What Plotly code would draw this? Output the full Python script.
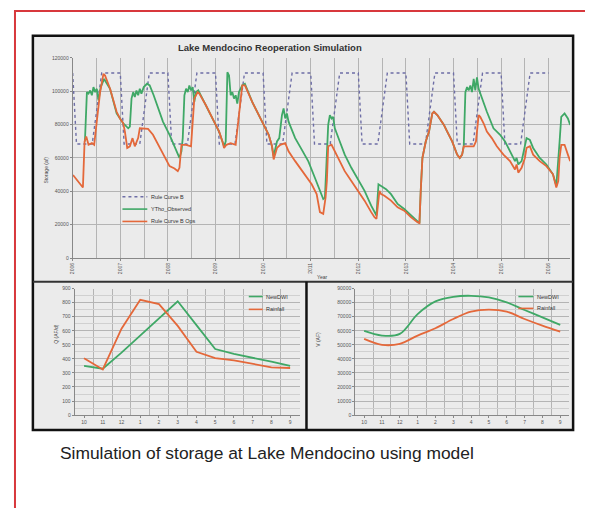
import plotly.graph_objects as go

# reference canvas size; the page body adds an 8px margin, so the figure is
# made 8px smaller and every layout position is measured from the window corner
W, H = 593, 508
OFF = 8
FW, FH = W - OFF, H - OFF

# ---------------- data: top chart (decimal year, storage af) ----------------
rule_t = [2006.75, 2006.83, 2007.16, 2007.36, 2007.75, 2007.83, 2008.16, 2008.36,
          2008.75, 2008.83, 2009.16, 2009.36, 2009.75, 2009.83, 2010.16, 2010.36,
          2010.75, 2010.83, 2011.16, 2011.36, 2011.75, 2011.83, 2012.16, 2012.36,
          2012.75, 2012.83, 2013.16, 2013.36, 2013.75, 2013.83, 2014.16, 2014.36,
          2014.75, 2014.83, 2015.16, 2015.36, 2015.75, 2015.83, 2016.16, 2016.36,
          2016.75]
rule_v = [111000, 68400, 68400, 111000, 111000, 68400, 68400, 111000,
          111000, 68400, 68400, 111000, 111000, 68400, 68400, 111000,
          111000, 68400, 68400, 111000, 111000, 68400, 68400, 111000,
          111000, 68400, 68400, 111000, 111000, 68400, 68400, 111000,
          111000, 68400, 68400, 111000, 111000, 68400, 68400, 111000,
          111000]

obs_t = [2007.007, 2007.049, 2007.083, 2007.118, 2007.153, 2007.187, 2007.222, 2007.257,
         2007.292, 2007.340, 2007.410, 2007.535, 2007.673, 2007.743, 2007.812, 2007.917,
         2007.951, 2007.986, 2008.021, 2008.055, 2008.090, 2008.125, 2008.160, 2008.194,
         2008.243, 2008.312, 2008.368, 2008.451, 2008.542, 2008.646, 2008.785, 2008.889,
         2008.958, 2008.993, 2009.035, 2009.062, 2009.097, 2009.132, 2009.167, 2009.201,
         2009.236, 2009.271, 2009.305, 2009.340, 2009.389, 2009.549, 2009.687, 2009.826,
         2009.896, 2009.930, 2009.965, 2010.000, 2010.035, 2010.069, 2010.104, 2010.139,
         2010.174, 2010.208, 2010.243, 2010.312, 2010.368, 2010.521, 2010.729, 2010.868,
         2010.937, 2010.972, 2011.042, 2011.090, 2011.146, 2011.181, 2011.215, 2011.250,
         2011.285, 2011.424, 2011.562, 2011.701, 2011.840, 2011.944, 2012.014, 2012.049,
         2012.083, 2012.118, 2012.153, 2012.188, 2012.222, 2012.257, 2012.361, 2012.465,
         2012.604, 2012.743, 2012.882, 2013.021, 2013.090, 2013.132, 2013.174, 2013.229,
         2013.333, 2013.437, 2013.576, 2013.715, 2013.854, 2013.993, 2014.035, 2014.062,
         2014.097, 2014.167, 2014.236, 2014.305, 2014.340, 2014.410, 2014.479, 2014.549,
         2014.618, 2014.722, 2014.826, 2014.882, 2014.931, 2014.965, 2015.000, 2015.035,
         2015.069, 2015.104, 2015.139, 2015.174, 2015.208, 2015.243, 2015.278, 2015.347,
         2015.451, 2015.590, 2015.729, 2015.833, 2015.937, 2016.042, 2016.076, 2016.111,
         2016.181, 2016.250, 2016.285, 2016.354, 2016.423, 2016.562, 2016.701, 2016.840,
         2016.910, 2016.979, 2017.014, 2017.083, 2017.153, 2017.201]
obs_v = [69900, 99500, 98600, 100500, 97600, 102500, 99500, 101500,
         94600, 102500, 107400, 101500, 86700, 83700, 80800, 77800,
         78800, 95600, 99500, 96600, 100500, 97600, 101500, 98600,
         102500, 104500, 103500, 97600, 89700, 81800, 73900, 67000,
         62000, 60000, 64000, 71900, 97600, 101500, 99500, 103500,
         100500, 102500, 93600, 99500, 100500, 91600, 83700, 75800,
         69900, 67000, 69900, 111400, 109400, 97600, 99500, 95600,
         97600, 92600, 99500, 103500, 104500, 93600, 81800, 73900,
         67000, 61000, 69900, 71900, 85700, 89700, 83700, 86700,
         81800, 71900, 65000, 58000, 48000, 40300, 35400, 36300,
         56100, 79800, 85700, 83700, 84700, 77800, 69900, 62000,
         54100, 47200, 40300, 31400, 27500, 25500, 44200, 43300,
         41300, 38300, 32400, 29400, 25500, 21500, 20900, 40300,
         60000, 69900, 75800, 86700, 87700, 85700, 82800, 79800,
         75800, 69900, 62000, 60000, 62000, 67000, 99500, 102500,
         100500, 103500, 99500, 107400, 100500, 108400, 101500, 95600,
         87700, 77800, 73900, 69900, 64000, 58100, 60000, 56100,
         58100, 67900, 71900, 70900, 66000, 60000, 56100, 50200,
         43300, 69900, 84700, 86700, 83700, 79800]

ops_t = [2006.757, 2006.965, 2007.000, 2007.035, 2007.083, 2007.153, 2007.201, 2007.257,
         2007.326, 2007.396, 2007.430, 2007.535, 2007.673, 2007.743, 2007.812, 2007.847,
         2007.896, 2007.951, 2008.007, 2008.055, 2008.125, 2008.160, 2008.229, 2008.333,
         2008.437, 2008.576, 2008.715, 2008.785, 2008.889, 2008.958, 2008.993, 2009.035,
         2009.132, 2009.236, 2009.305, 2009.375, 2009.410, 2009.549, 2009.687, 2009.826,
         2009.896, 2009.930, 2009.979, 2010.069, 2010.174, 2010.243, 2010.312, 2010.368,
         2010.521, 2010.729, 2010.868, 2010.937, 2010.972, 2011.042, 2011.111, 2011.215,
         2011.285, 2011.424, 2011.632, 2011.771, 2011.875, 2011.944, 2012.014, 2012.063,
         2012.090, 2012.118, 2012.188, 2012.222, 2012.326, 2012.465, 2012.604, 2012.743,
         2012.882, 2013.021, 2013.090, 2013.132, 2013.194, 2013.229, 2013.299, 2013.437,
         2013.576, 2013.715, 2013.854, 2013.993, 2014.035, 2014.062, 2014.097, 2014.167,
         2014.236, 2014.305, 2014.340, 2014.410, 2014.479, 2014.549, 2014.618, 2014.722,
         2014.826, 2014.882, 2014.931, 2014.965, 2015.174, 2015.222, 2015.278, 2015.312,
         2015.382, 2015.451, 2015.555, 2015.660, 2015.799, 2015.937, 2016.042, 2016.076,
         2016.111, 2016.181, 2016.250, 2016.285, 2016.354, 2016.423, 2016.562, 2016.701,
         2016.840, 2016.910, 2016.951, 2016.979, 2017.014, 2017.083, 2017.153, 2017.201]
ops_v = [49800, 42300, 69900, 72900, 67900, 68900, 67900, 83700,
         99500, 110400, 109400, 101500, 87700, 83700, 80800, 75800,
         66000, 67000, 71900, 67000, 71900, 77800, 77800, 77400,
         73900, 66000, 58100, 55100, 53700, 52100, 54100, 67900,
         67900, 67000, 95600, 99500, 98600, 91600, 83700, 75800,
         69900, 66000, 67900, 68900, 67900, 85700, 103500, 103500,
         93600, 81800, 73900, 67000, 59100, 66000, 67900, 68900,
         64000, 58100, 50200, 44200, 38300, 27500, 26500, 36300,
         46200, 67000, 67900, 66000, 60000, 52100, 46200, 40300,
         34400, 27500, 24500, 23500, 40300, 38300, 37300, 34400,
         30400, 28400, 24500, 21500, 20900, 40300, 60000, 69900,
         75800, 86700, 87700, 85700, 82800, 79800, 75800, 69900,
         62000, 60000, 62000, 67000, 67000, 69900, 85700, 84700,
         80800, 75800, 71900, 67000, 62000, 58100, 53100, 56100,
         51200, 54100, 60000, 66000, 67000, 62000, 58100, 55100,
         50200, 42300, 46200, 60000, 67900, 67900, 62000, 58100]

year_ticks = [2006.75, 2007.75, 2008.75, 2009.75, 2010.75, 2011.75,
              2012.75, 2013.75, 2014.75, 2015.75, 2016.75]
year_labels = ["2006", "2007", "2008", "2009", "2010", "2011",
               "2012", "2013", "2014", "2015", "2016"]

# ---------------- data: bottom charts ----------------
months = ["10", "11", "12", "1", "2", "3", "4", "5", "6", "7", "8", "9"]
flow_green = [350, 330, 445, 565, 690, 810, 640, 470, 435, 410, 380, 350]
flow_orange = [405, 325, 615, 820, 790, 635, 450, 405, 390, 365, 340, 335]
vol_green = [59900, 56600, 57800, 71900, 80900, 84200, 84900, 83700, 80200, 74800, 69600, 64200]
vol_orange = [54200, 50000, 50700, 56600, 61800, 68400, 73600, 75000, 73600, 68400, 63700, 59400]

top_names = ["Rule Curve B", "YTho_Observed", "Rule Curve B Ops"]
bottom_names = ["NewDWI", "Rainfall"]

GREEN = "#3fa866"
ORANGE = "#e4683a"
RULE = "#6e6ea6"
GRID = "#b4b4b4"
BG = "#ebebeb"
FONT = "Liberation Sans"


def fx(p):
    return (p - OFF) / FW


def fy(p):
    return 1 - (p - OFF) / FH


fig = go.Figure()

fig.add_trace(go.Scatter(x=rule_t, y=rule_v, mode="lines", name=top_names[0],
                         line=dict(color=RULE, width=1.4, dash="dot"),
                         xaxis="x", yaxis="y"))
fig.add_trace(go.Scatter(x=obs_t, y=obs_v, mode="lines", name=top_names[1],
                         line=dict(color=GREEN, width=1.8),
                         xaxis="x", yaxis="y"))
fig.add_trace(go.Scatter(x=ops_t, y=ops_v, mode="lines", name=top_names[2],
                         line=dict(color=ORANGE, width=1.8),
                         xaxis="x", yaxis="y"))

fig.add_trace(go.Scatter(x=list(range(12)), y=flow_green, mode="lines", name=bottom_names[0],
                         line=dict(color=GREEN, width=1.8), xaxis="x2", yaxis="y2"))
fig.add_trace(go.Scatter(x=list(range(12)), y=flow_orange, mode="lines", name=bottom_names[1],
                         line=dict(color=ORANGE, width=1.8), xaxis="x2", yaxis="y2"))

fig.add_trace(go.Scatter(x=list(range(12)), y=vol_green, mode="lines", name=bottom_names[0],
                         line=dict(color=GREEN, width=1.8, shape="spline"),
                         xaxis="x3", yaxis="y3"))
fig.add_trace(go.Scatter(x=list(range(12)), y=vol_orange, mode="lines", name=bottom_names[1],
                         line=dict(color=ORANGE, width=1.8, shape="spline"),
                         xaxis="x3", yaxis="y3"))

tickfont = dict(family=FONT, size=5, color="#555555")
legfont = dict(family=FONT, size=5.5, color="#333333")

shapes = [
    # red outer frame
    dict(type="rect", xref="paper", yref="paper", x0=fx(12), x1=fx(590), y0=fy(530), y1=fy(8),
         line=dict(color="#d8383c", width=2), fillcolor="rgba(0,0,0,0)", layer="below"),
    # black panel
    dict(type="rect", xref="paper", yref="paper", x0=fx(30), x1=fx(573), y0=fy(432), y1=fy(33),
         line=dict(color="#111111", width=2.5), fillcolor=BG, layer="below"),
    dict(type="line", xref="paper", yref="paper", x0=fx(30), x1=fx(573), y0=fy(282), y1=fy(282),
         line=dict(color="#333333", width=2)),
    dict(type="line", xref="paper", yref="paper", x0=fx(305), x1=fx(305), y0=fy(432), y1=fy(282),
         line=dict(color="#111111", width=2.5)),
]

annotations = [
    dict(text="<b>Lake Mendocino Reoperation Simulation</b>", xref="paper", yref="paper",
         x=fx(268), y=fy(45), showarrow=False, font=dict(family=FONT, size=9.5, color="#333333"),
         xanchor="center", yanchor="middle"),
    dict(text="Storage (af)", xref="paper", yref="paper", x=fx(38), y=fy(153), textangle=-90,
         showarrow=False, font=dict(family=FONT, size=5, color="#444444")),
    dict(text="Year", xref="paper", yref="paper", x=fx(321), y=fy(277),
         showarrow=False, font=dict(family=FONT, size=5, color="#444444")),
    dict(text="Q (AF/d)", xref="paper", yref="paper", x=fx(48), y=fy(347), textangle=-90,
         showarrow=False, font=dict(family=FONT, size=5, color="#444444")),
    dict(text="V (AF)", xref="paper", yref="paper", x=fx(317), y=fy(350), textangle=-90,
         showarrow=False, font=dict(family=FONT, size=5, color="#444444")),
    dict(text="Simulation of storage at Lake Mendocino using model", xref="paper", yref="paper",
         x=fx(265), y=fy(455), showarrow=False, xanchor="center", yanchor="middle",
         font=dict(family=FONT, size=17.4, color="#222222")),
]

# compact legends (key line + label) drawn in paper space
legend_specs = [
    # (x0, x1 of key, y, colour, dash, label)
    (120, 145, 196, RULE, "dot", top_names[0]),
    (120, 145, 208.5, GREEN, "solid", top_names[1]),
    (120, 145, 221, ORANGE, "solid", top_names[2]),
    (247, 261, 297, GREEN, "solid", bottom_names[0]),
    (247, 261, 310, ORANGE, "solid", bottom_names[1]),
    (518, 533, 297, GREEN, "solid", bottom_names[0]),
    (518, 533, 309, ORANGE, "solid", bottom_names[1]),
]
for x0, x1, yy, col, dash, label in legend_specs:
    shapes.append(dict(type="line", xref="paper", yref="paper", x0=fx(x0), x1=fx(x1),
                       y0=fy(yy), y1=fy(yy), line=dict(color=col, width=1.6, dash=dash)))
    annotations.append(dict(text=label, xref="paper", yref="paper", x=fx(x1 + 1.5), y=fy(yy),
                            xanchor="left", yanchor="middle", showarrow=False, font=legfont))

axis_common = dict(showline=True, linecolor="#888888", linewidth=1, ticks="outside",
                   ticklen=2, tickcolor="#888888", tickfont=tickfont, zeroline=False)

fig.update_layout(
    width=FW, height=FH, margin=dict(l=0, r=0, t=0, b=0),
    paper_bgcolor="white", plot_bgcolor=BG,
    font=dict(family=FONT), showlegend=False,
    shapes=shapes, annotations=annotations,
    xaxis=dict(domain=[fx(70), fx(570)], anchor="y", range=[2006.75, 2017.2],
               tickmode="array", tickvals=year_ticks, ticktext=year_labels, tickangle=-90,
               showgrid=True, gridcolor=GRID, gridwidth=1,
               minor=dict(tick0=2006.25, dtick=1, showgrid=True, gridcolor=GRID, ticklen=0),
               **axis_common),
    yaxis=dict(domain=[fy(258), fy(55.5)], anchor="x", range=[0, 120000], dtick=20000,
               tickformat="d", showgrid=True, gridcolor=GRID, **axis_common),
    xaxis2=dict(domain=[fx(72), fx(298)], anchor="y2", range=[-0.5, 11.5],
                tickmode="array", tickvals=list(range(12)), ticktext=months, showgrid=False,
                minor=dict(tickmode="array", tickvals=[i - 0.5 for i in range(13)],
                           showgrid=True, gridcolor=GRID, ticklen=0),
                **axis_common),
    yaxis2=dict(domain=[fy(417), fy(289)], anchor="x2", range=[0, 900], dtick=100,
                showgrid=True, gridcolor=GRID,
                minor=dict(dtick=50, showgrid=True, gridcolor="#d0d0d0", ticklen=0),
                **axis_common),
    xaxis3=dict(domain=[fx(354), fx(569)], anchor="y3", range=[-0.5, 11.5],
                tickmode="array", tickvals=list(range(12)), ticktext=months, showgrid=False,
                minor=dict(tickmode="array", tickvals=[i - 0.5 for i in range(13)],
                           showgrid=True, gridcolor=GRID, ticklen=0),
                **axis_common),
    yaxis3=dict(domain=[fy(417), fy(289)], anchor="x3", range=[0, 90000], dtick=10000,
                tickformat="d", showgrid=True, gridcolor=GRID,
                minor=dict(dtick=5000, showgrid=True, gridcolor="#d0d0d0", ticklen=0),
                **axis_common),
)

fig.write_html("out.html")
